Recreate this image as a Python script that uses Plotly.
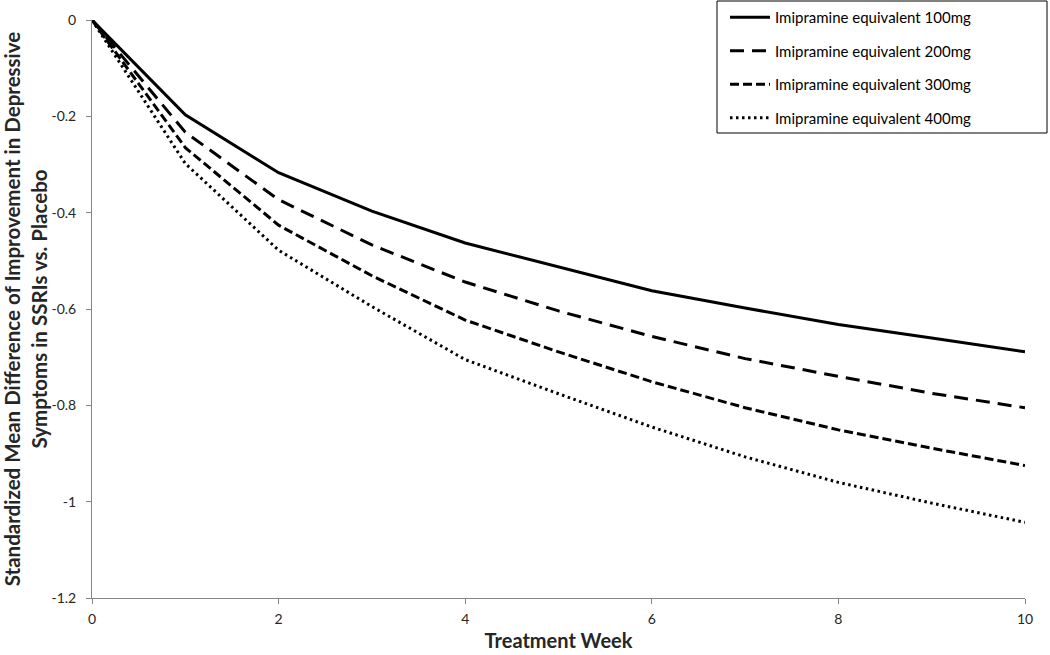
import plotly.graph_objects as go

weeks = [0, 1, 2, 3, 4, 5, 6, 7, 8, 9, 10]
smd_100 = [0, -0.197, -0.317, -0.397, -0.463, -0.513, -0.562, -0.598, -0.632, -0.660, -0.689]
smd_200 = [0, -0.233, -0.373, -0.467, -0.544, -0.604, -0.657, -0.703, -0.740, -0.775, -0.805]
smd_300 = [0, -0.265, -0.426, -0.531, -0.623, -0.689, -0.751, -0.805, -0.851, -0.889, -0.925]
smd_400 = [0, -0.298, -0.478, -0.595, -0.705, -0.776, -0.845, -0.907, -0.960, -1.003, -1.043]
names = ["Imipramine equivalent 100mg", "Imipramine equivalent 200mg",
         "Imipramine equivalent 300mg", "Imipramine equivalent 400mg"]
x_ticks = [0, 2, 4, 6, 8, 10]
y_ticks = [0, -0.2, -0.4, -0.6, -0.8, -1, -1.2]
y_tick_text = ["0", "-0.2", "-0.4", "-0.6", "-0.8", "-1", "-1.2"]

FONT = "Lato, 'Open Sans', sans-serif"
styles = [
    dict(width=3, dash="solid"),
    dict(width=3, dash="14px,8px"),
    dict(width=3, dash="9px,4px"),
    dict(width=3, dash="2.5px,3.5px"),
]

W, H = 1050, 655
L, R, T, B = 92, 25, 20, 57
PW, PH = W - L - R, H - T - B


def px_x(p):
    return (p - L) / PW


def px_y(p):
    return (H - B - p) / PH


fig = go.Figure()
for i, (name, ys) in enumerate(zip(names, [smd_100, smd_200, smd_300, smd_400])):
    fig.add_trace(go.Scatter(
        x=weeks, y=ys, mode="lines", name=name,
        legendgroup=f"g{i}",
        line=dict(color="black", **styles[i]),
    ))

fig.update_layout(
    width=W, height=H,
    margin=dict(l=L, r=R, t=T, b=B, autoexpand=False),
    paper_bgcolor="white", plot_bgcolor="white",
    font=dict(family=FONT, color="#262626", size=14),
    showlegend=True,
    legend=dict(
        x=px_x(725), xanchor="left",
        y=px_y(1), yanchor="top",
        borderwidth=0,
        bgcolor="rgba(0,0,0,0)",
        font=dict(family=FONT, size=15, color="black"),
        tracegroupgap=11,
        itemwidth=40,
        traceorder="grouped",
    ),
    shapes=[dict(
        type="rect", xref="paper", yref="paper",
        x0=px_x(717), x1=px_x(1047), y0=px_y(133), y1=px_y(1),
        line=dict(color="black", width=1), fillcolor="rgba(0,0,0,0)",
        layer="above",
    )],
    xaxis=dict(
        range=[0, 10], tickvals=x_ticks, ticktext=[str(t) for t in x_ticks],
        showline=True, linecolor="#868686", linewidth=1,
        ticks="outside", ticklen=5, tickcolor="#868686",
        ticklabelstandoff=3,
        showgrid=False, zeroline=False, automargin=False,
        tickfont=dict(family=FONT, size=14, color="#262626"),
        title=dict(text="<b>Treatment Week</b>", standoff=8,
                   font=dict(family=FONT, size=20, color="#262626")),
    ),
    yaxis=dict(
        range=[-1.2, 0], tickvals=y_ticks, ticktext=y_tick_text,
        showline=True, linecolor="#868686", linewidth=1,
        ticks="outside", ticklen=5, tickcolor="#868686",
        ticklabelstandoff=7,
        showgrid=False, zeroline=False, automargin=False,
        tickfont=dict(family=FONT, size=14, color="#262626"),
        title=dict(text="<b>Standardized Mean Difference of Improvement in Depressive<br>Symptoms in SSRIs vs. Placebo</b>",
                   standoff=8,
                   font=dict(family=FONT, size=20.5, color="#262626")),
    ),
)

fig.write_html("out.html", config={"displayModeBar": False},
               post_script="document.body.style.margin='0';document.body.style.padding='0';")
